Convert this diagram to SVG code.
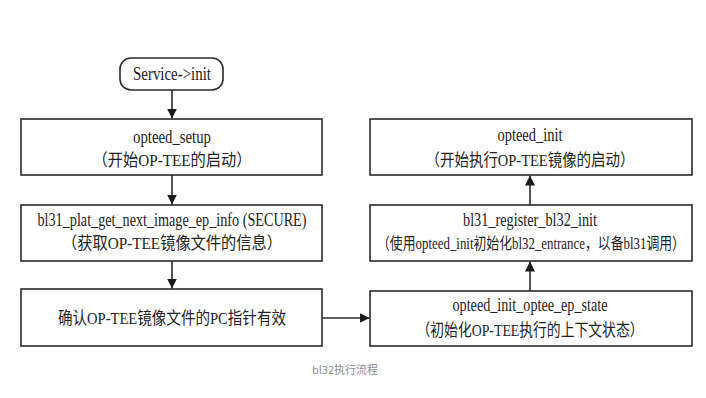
<svg xmlns="http://www.w3.org/2000/svg" width="706" height="398" viewBox="0 0 706 398">
<style>
.box{fill:#fff;stroke:#2a2a2a;stroke-width:1.6}
.t{font-family:"Liberation Serif","Noto Sans CJK SC",serif;font-size:18px;fill:#222;text-anchor:middle}
.c{font-family:"Liberation Serif","Noto Sans CJK SC",serif;font-size:16.5px;fill:#222;text-anchor:middle}
.s{font-family:"Liberation Serif","Noto Sans CJK SC",serif;font-size:16px;fill:#222;text-anchor:middle}
.ln{stroke:#2a2a2a;stroke-width:1.6;fill:none}
.cap{font-family:"Noto Sans CJK SC",sans-serif;font-size:11px;fill:#8a8f99;text-anchor:middle}
</style>
<defs>
<marker id="ah" viewBox="0 0 10 10" refX="10" refY="5" markerWidth="10" markerHeight="10" markerUnits="userSpaceOnUse" orient="auto">
<path d="M0,0 L10,5 L0,10 Z" fill="#1a1a1a"/>
</marker>
</defs>
<rect width="706" height="398" fill="#fff"/>
<g id="connectors">
<line class="ln" x1="172" y1="90" x2="172" y2="118.5" marker-end="url(#ah)"/>
<line class="ln" x1="172" y1="175" x2="172" y2="204.5" marker-end="url(#ah)"/>
<line class="ln" x1="172" y1="261" x2="172" y2="288.5" marker-end="url(#ah)"/>
<line class="ln" x1="322" y1="318" x2="369.5" y2="318" marker-end="url(#ah)"/>
<line class="ln" x1="530" y1="291" x2="530" y2="261.5" marker-end="url(#ah)"/>
<line class="ln" x1="530" y1="205" x2="530" y2="175.5" marker-end="url(#ah)"/>
</g>
<g id="n_service">
<rect class="box" x="120" y="58" width="103" height="32" rx="11"/>
<text class="t" x="172" y="80" textLength="78" lengthAdjust="spacingAndGlyphs">Service-&gt;init</text>
</g>
<g id="n_setup">
<rect class="box" x="21" y="119" width="301" height="56"/>
<text class="t" x="172" y="143" textLength="78" lengthAdjust="spacingAndGlyphs">opteed_setup</text>
<text class="c" x="172" y="166" textLength="159" lengthAdjust="spacingAndGlyphs">（开始OP-TEE的启动）</text>
</g>
<g id="n_plat">
<rect class="box" x="21" y="205" width="301" height="56"/>
<text class="t" x="172" y="226" textLength="269" lengthAdjust="spacingAndGlyphs">bl31_plat_get_next_image_ep_info (SECURE)</text>
<text class="c" x="172" y="249" textLength="220" lengthAdjust="spacingAndGlyphs">（获取OP-TEE镜像文件的信息）</text>
</g>
<g id="n_pc">
<rect class="box" x="21" y="289" width="301" height="57"/>
<text class="c" x="172" y="324" textLength="228" lengthAdjust="spacingAndGlyphs">确认OP-TEE镜像文件的PC指针有效</text>
</g>
<g id="n_init">
<rect class="box" x="370" y="119" width="322" height="56"/>
<text class="t" x="530" y="141" textLength="65" lengthAdjust="spacingAndGlyphs">opteed_init</text>
<text class="c" x="530" y="166" textLength="209" lengthAdjust="spacingAndGlyphs">（开始执行OP-TEE镜像的启动）</text>
</g>
<g id="n_register">
<rect class="box" x="370" y="205" width="322" height="56"/>
<text class="t" x="530" y="226" textLength="134" lengthAdjust="spacingAndGlyphs">bl31_register_bl32_init</text>
<text class="s" transform="scale(0.8,1)" x="663.75" y="249" textLength="385" lengthAdjust="spacingAndGlyphs">（使用opteed_init初始化bl32_entrance，以备bl31调用）</text>
</g>
<g id="n_state">
<rect class="box" x="370" y="291" width="322" height="55"/>
<text class="t" x="530" y="311" textLength="155" lengthAdjust="spacingAndGlyphs">opteed_init_optee_ep_state</text>
<text class="c" x="530" y="336" textLength="227" lengthAdjust="spacingAndGlyphs">（初始化OP-TEE执行的上下文状态）</text>
</g>
<text class="cap" x="345" y="374">bl32执行流程</text>
</svg>
